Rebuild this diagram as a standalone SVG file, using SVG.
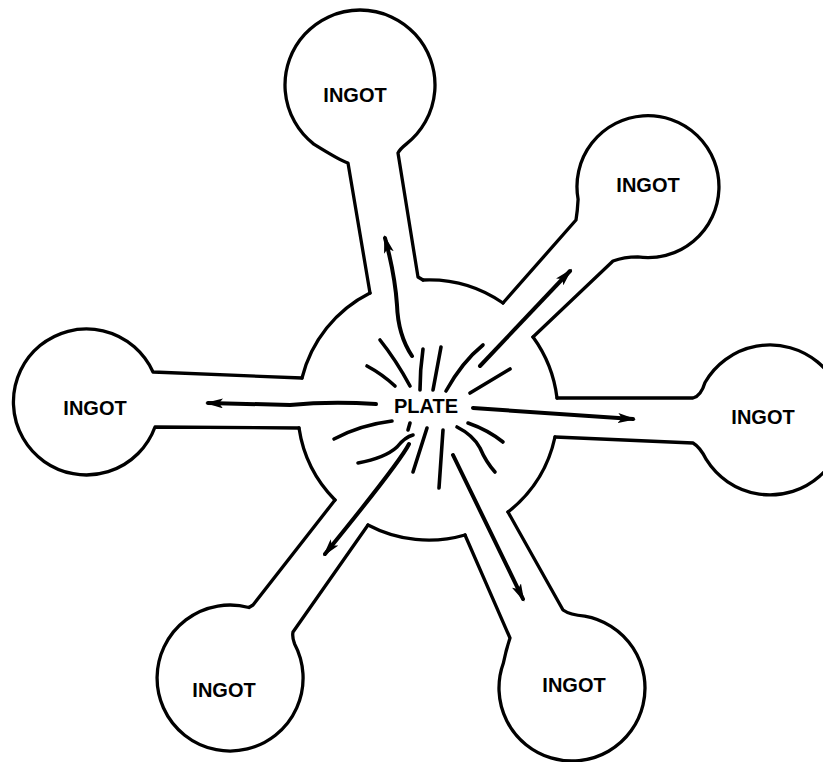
<svg xmlns="http://www.w3.org/2000/svg" width="823" height="762" viewBox="0 0 823 762">
<style>
.ol{fill:none;stroke:#000;stroke-width:3.3;stroke-linejoin:round;stroke-linecap:round}
.ray{fill:none;stroke:#000;stroke-width:3.6;stroke-linecap:round}
.arr{fill:none;stroke:#000;stroke-width:4;stroke-linecap:round;marker-end:url(#ah)}
.lbl{font-family:"Liberation Sans",Arial,sans-serif;font-weight:bold;font-size:20px;fill:#000;text-anchor:middle}
</style>
<defs>
<marker id="ah" markerUnits="userSpaceOnUse" markerWidth="18" markerHeight="10" refX="15" refY="5" orient="auto">
<path d="M0,0 L18,5 L0,10 L4,5 z" fill="#000"/>
</marker>
</defs>
<rect width="823" height="762" fill="#fff"/>
<g id="plate">
<path class="ol" d="M423,280 A130,130 0 0 1 503,303 M533,337 A130,130 0 0 1 557,398 M555,437 A130,130 0 0 1 508,512 M465,535 A130,130 0 0 1 368,525 M335,500 A130,130 0 0 1 299,428 M302,378 A130,130 0 0 1 370,293"/>
<g class="rays">
<path class="ray" d="M380,340 Q396,360 410,386"/>
<path class="ray" d="M367,366 Q382,374 395,386"/>
<path class="ray" d="M423,349 Q420,370 420,390"/>
<path class="ray" d="M441,347 L433,390"/>
<path class="ray" d="M483,345 Q462,362 446,391"/>
<path class="ray" d="M510,369 L470,393"/>
<path class="ray" d="M392,421 Q360,425 334,439"/>
<path class="ray" d="M410,423 L408,430"/>
<path class="ray" d="M413,435 Q405,437 397,447 Q385,458 358,463"/>
<path class="ray" d="M427,428 L413,472"/>
<path class="ray" d="M443,430 Q441,460 439,488"/>
<path class="ray" d="M457,427 Q473,435 480,448 Q486,462 495,472"/>
<path class="ray" d="M468,423 Q488,430 503,442"/>
</g>
<text class="lbl" x="426" y="413">PLATE</text>
</g>
<g id="ingot-top">
<path class="ol" d="M370,293 L348,163 Q341,161 313.8,144.1 A75,75 0 1 1 406.2,144.1 Q400,149 398,153 L418,277 L423,280"/>
<text class="lbl" x="355" y="102">INGOT</text>
</g>
<g id="ingot-top-right">
<path class="ol" d="M503,303 L576,220 Q577.5,211 578.1,199.3 A71,71 0 1 1 637.7,256.9 Q624,257 613,261 L533,337"/>
<text class="lbl" x="648" y="192">INGOT</text>
</g>
<g id="ingot-right">
<path class="ol" d="M557,398 L693,398 Q701,396 705,382.5 A75,75 0 1 1 706.4,459.7 Q700,447 693,443 L555,437"/>
<text class="lbl" x="763" y="424">INGOT</text>
</g>
<g id="ingot-bottom-right">
<path class="ol" d="M508,512 L563,610 Q570,615 584.7,616.1 A73,73 0 1 1 503.4,663 Q506,650 510,638 L465,535"/>
<text class="lbl" x="574" y="692">INGOT</text>
</g>
<g id="ingot-bottom-left">
<path class="ol" d="M368,525 L293,632 Q292,637 294.5,643.7 A73,73 0 1 1 248.9,607.5 L253,605 L335,500"/>
<text class="lbl" x="224" y="697">INGOT</text>
</g>
<g id="ingot-left">
<path class="ol" d="M299,428 L155,427 A73,73 0 1 1 153,372 L302,378"/>
<text class="lbl" x="95" y="415">INGOT</text>
</g>
<g id="connectors">
<path class="arr" d="M412,356 Q398,335 397,305 Q395,275 385,238"/>
<path class="arr" d="M480,366 L570,271"/>
<path class="arr" d="M376,404 Q330,401 290,405 L208,403"/>
<path class="arr" d="M473,408 L633,419"/>
<path class="arr" d="M409,444 Q400,462 325,554"/>
<path class="arr" d="M453,455 L523,599"/>
</g>
</svg>
